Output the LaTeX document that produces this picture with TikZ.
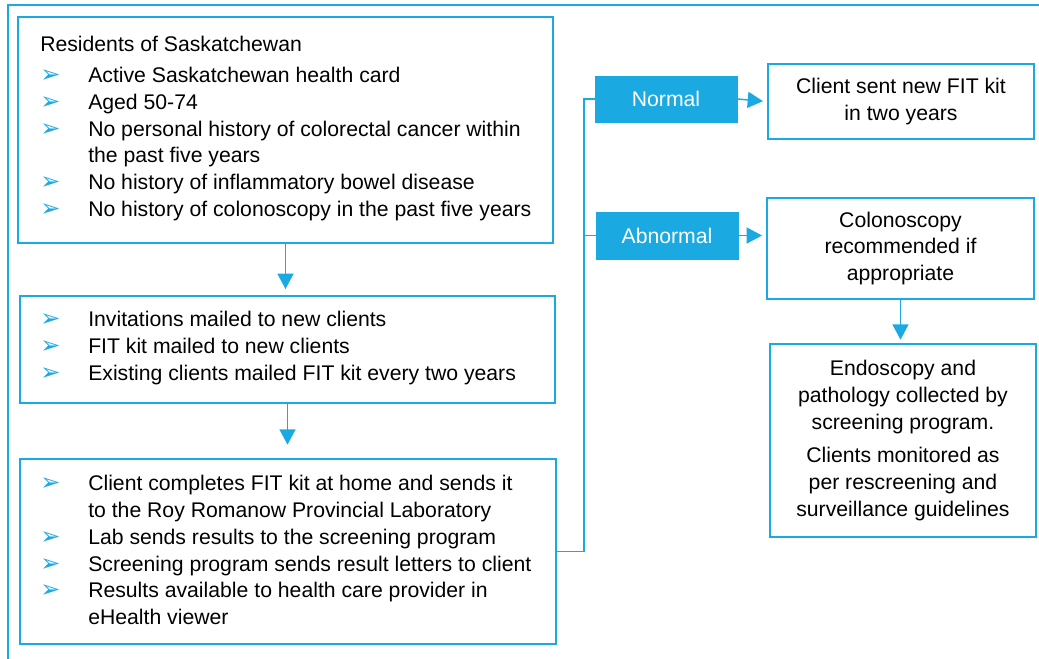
\documentclass[tikz,border=0pt]{standalone}
\usepackage{fontspec}
\setmainfont{Liberation Sans}
\newfontfamily\dvs{DejaVu Sans}
\usetikzlibrary{arrows.meta,fit}
\definecolor{bl}{RGB}{27,169,225}
\newcommand{\tx}{\fontsize{15.9}{20.1}\selectfont}
\newcommand{\bul}{\makebox[36pt][l]{\textcolor{bl}{\fontsize{18}{18}\dvs ➢}}}
\newcommand{\ind}{\hspace*{36pt}}
\begin{document}
\begin{tikzpicture}[x=0.75pt,y=-0.75pt,
  box/.style={draw=bl,line width=1.5pt,inner sep=0pt},
  lbl/.style={fill=bl,draw=bl,inner sep=0pt,text=white,font=\tx},
  txt/.style={inner sep=0pt,font=\tx},
  conn/.style={draw=bl,line width=1.1pt},
  arr/.style={conn,-{Triangle[width=12pt,length=11.5pt]}}]
\useasboundingbox (0,0) rectangle (1039,658);
\begin{scope}
\clip (0,0) rectangle (1039,658);
\draw[bl,line width=1.5pt] (8,5) rectangle (1060,680);
\end{scope}
% left column boxes
\node[box,fit={(18,17) (553,243)}] (b1) {};
\node[box,fit={(20,296) (555,403)}] (b2) {};
\node[box,fit={(20,459) (556,644)}] (b3) {};
\node[txt,anchor=north west,align=left] (t1) at (40,36) {Residents of Saskatchewan\\[3pt]
\bul Active Saskatchewan health card\\
\bul Aged 50-74\\
\bul No personal history of colorectal cancer within\\
\ind the past five years\\
\bul No history of inflammatory bowel disease\\
\bul No history of colonoscopy in the past five years};
\node[txt,anchor=north west,align=left] (t2) at (40,311) {\bul Invitations mailed to new clients\\
\bul FIT kit mailed to new clients\\
\bul Existing clients mailed FIT kit every two years};
\node[txt,anchor=north west,align=left] (t3) at (40,475) {\bul Client completes FIT kit at home and sends it\\
\ind to the Roy Romanow Provincial Laboratory\\
\bul Lab sends results to the screening program\\
\bul Screening program sends result letters to client\\
\bul Results available to health care provider in\\
\ind eHealth viewer};
% result labels
\node[lbl,fit={(595,76) (737,122)}] (normal) {};
\node[txt,text=white] at (normal.center) {Normal};
\node[lbl,fit={(596,212) (738,259)}] (abn) {};
\node[txt,text=white] at (abn.center) {Abnormal};
% right boxes
\node[box,fit={(768,64) (1034,139)}] (client) {};
\node[txt,align=center] at (client.center) {Client sent new FIT kit\\in two years};
\node[box,fit={(767,198) (1034,299)}] (colo) {};
\node[txt,align=center] at (colo.center) {Colonoscopy\\recommended if\\appropriate};
\node[box,fit={(770,344) (1036,537)}] (endo) {};
\node[txt,align=center] at (endo.center) {Endoscopy and\\pathology collected by\\screening program.\\[5pt]Clients monitored as\\per rescreening and\\surveillance guidelines};
% connectors
\coordinate (j) at (584,0);
\draw[conn] (b3.east) -- (j |- b3.east) -- (j |- normal.west) -- (normal.west);
\draw[conn] (j |- abn.west) -- (abn.west);
\draw[arr,shorten >=3pt] (normal.east) -- (client.west);
\draw[arr,shorten >=3pt] (abn.east) -- (abn.east -| colo.west);
\draw[arr,shorten >=4.5pt] (b1.south) -- (b1.south |- b2.north);
\draw[arr,shorten >=10pt] (b2.south) -- (b2.south |- b3.north);
\draw[arr,shorten >=2.5pt] (colo.south) -- (colo.south |- endo.north);
\end{tikzpicture}
\end{document}
